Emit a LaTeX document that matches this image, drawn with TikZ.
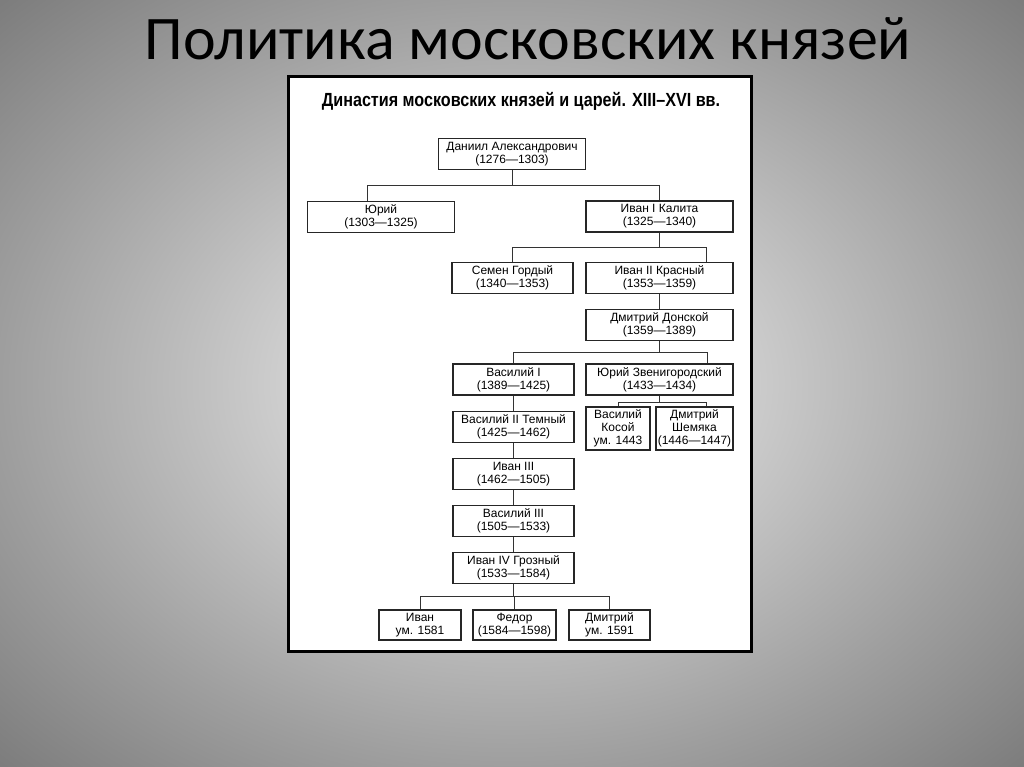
\documentclass[tikz,border=0pt]{standalone}
\usepackage{fontspec}
\setmainfont{Liberation Sans}
\newfontfamily\titlefont{Carlito}
\newfontfamily\headfont{Liberation Sans}[FakeStretch=0.85]
\usetikzlibrary{positioning,calc}
\pgfdeclareradialshading{slidebg}{\pgfpoint{0bp}{0bp}}{color(0bp)=(black!12); color(8bp)=(black!15); color(25bp)=(black!38); color(36bp)=(black!52); color(50bp)=(black!52)}

\begin{document}
\begin{tikzpicture}[x=1pt, y=-1pt,
		PersonBox/.style={draw=black!85, line width=1.1pt, fill=white, align=center, inner sep=0pt, minimum height=31pt, font=\fontsize{12}{13}\selectfont},
		WideBox/.style={PersonBox, minimum width=147pt},
		ChainBox/.style={PersonBox, minimum width=121pt},
		Link/.style={draw=black!80, line width=0.9pt},
		node distance=15pt]
		\useasboundingbox (0,0) rectangle (1024,767);
		\shade[shading=slidebg] (0,0) rectangle (1024,767);
		\node[anchor=base, font=\titlefont\fontsize{62}{66}\selectfont] (title) at (528,60) {Политика московских князей};
		\draw[line width=3pt, fill=white] (288,77) rectangle (751,651);
		\node[anchor=base, font=\headfont\bfseries\fontsize{19}{22}\selectfont] (head) at (521,107) {Династия московских князей и царей. XIII–XVI вв.};
		% boxes
		\node[WideBox] (dan) at (512,154) {Даниил Александрович\\(1276—1303)};
		\node[WideBox] (yuri) at (381,217) {Юрий\\(1303—1325)};
		\node[WideBox] (kalita) at (659.5,216.5) {Иван I Калита\\(1325—1340)};
		\node[ChainBox] (semen) at (512.5,278) {Семен Гордый\\(1340—1353)};
		\node[WideBox] (krasny) at (659.5,278) {Иван II Красный\\(1353—1359)};
		\node[WideBox, below=15pt of krasny] (donskoy) {Дмитрий Донской\\(1359—1389)};
		\node[ChainBox] (vas1) at (513.5,379.5) {Василий I\\(1389—1425)};
		\node[WideBox] (zven) at (659.5,379.5) {Юрий Звенигородский\\(1433—1434)};
		\node[PersonBox, minimum width=64pt, minimum height=43pt] (kosoy) at (618,428.5) {Василий\\Косой\\ум. 1443};
		\node[PersonBox, minimum width=77pt, minimum height=43pt] (shem) at (694.5,428.5) {Дмитрий\\Шемяка\\(1446—1447)};
		\node[ChainBox, below=of vas1] (vas2) {Василий II Темный\\(1425—1462)};
		\node[ChainBox, below=of vas2] (ivan3) {Иван III\\(1462—1505)};
		\node[ChainBox, below=of ivan3] (vas3) {Василий III\\(1505—1533)};
		\node[ChainBox, below=of vas3] (grozny) {Иван IV Грозный\\(1533—1584)};
		\node[PersonBox, minimum width=82pt, minimum height=30pt] (ivan) at (420,625) {Иван\\ум. 1581};
		\node[PersonBox, minimum width=83pt, minimum height=30pt] (fedor) at (514.5,625) {Федор\\(1584—1598)};
		\node[PersonBox, minimum width=81pt, minimum height=30pt] (dmitry) at (609.5,625) {Дмитрий\\ум. 1591};
		% connectors
		\coordinate (barA) at (0,185);
		\coordinate (barB) at (0,247);
		\coordinate (barC) at (0,352);
		\coordinate (barD) at (0,402);
		\coordinate (barE) at (0,596);
		\coordinate (yuriIn) at ([xshift=-14pt]yuri.north);
		\coordinate (krasnyIn) at ([xshift=46.5pt]krasny.north);
		\coordinate (zvenIn) at ([xshift=47.5pt]zven.north);
		\coordinate (shemIn) at ([xshift=12pt]shem.north);
		\draw[Link] (dan.south) -- (dan.south |- barA);
		\draw[Link] (yuriIn) |- (kalita.north |- barA) -- (kalita.north);
		\draw[Link] (kalita.south) -- (kalita.south |- barB);
		\draw[Link] (semen.north) |- (krasnyIn |- barB) -- (krasnyIn);
		\draw[Link] (krasny.south) -- (donskoy.north);
		\draw[Link] (donskoy.south) -- (donskoy.south |- barC);
		\draw[Link] (vas1.north) |- (zvenIn |- barC) -- (zvenIn);
		\draw[Link] (zven.south) -- (zven.south |- barD);
		\draw[Link] (kosoy.north) |- (shemIn |- barD) -- (shemIn);
		\foreach \a/\b in {vas1/vas2, vas2/ivan3, ivan3/vas3, vas3/grozny}
		\draw[Link] (\a.south) -- (\b.north);
		\draw[Link] (grozny.south) -- (grozny.south |- barE);
		\draw[Link] (ivan.north) |- (dmitry.north |- barE) -- (dmitry.north);
		\draw[Link] (fedor.north) -- (fedor.north |- barE);
	\end{tikzpicture}
\end{document}
